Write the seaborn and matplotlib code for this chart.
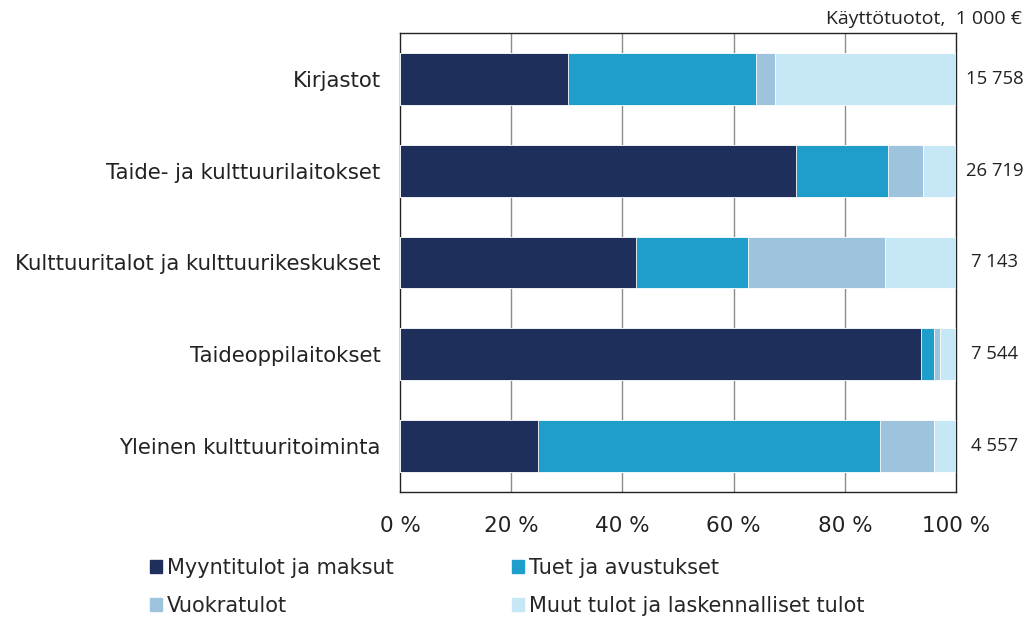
import pandas as pd
import seaborn as sns
import matplotlib.pyplot as plt

categories = ['Kirjastot', 'Taide- ja kulttuurilaitokset', 'Kulttuuritalot ja kulttuurikeskukset',
              'Taideoppilaitokset', 'Yleinen kulttuuritoiminta']
series = ['Myyntitulot ja maksut', 'Tuet ja avustukset', 'Vuokratulot',
          'Muut tulot ja laskennalliset tulot']
myynti = [30.2, 71.2, 42.4, 93.7, 24.8]
tuet = [33.8, 16.6, 20.2, 2.3, 61.5]
vuokra = [3.4, 6.3, 24.6, 1.1, 9.7]
muut = [32.6, 5.9, 12.8, 2.9, 4.0]
totals = ['15 758', '26 719', '7 143', '7 544', '4 557']
colors = ['#1f2f5c', '#1f9dcb', '#9dc4dc', '#c5e7f6']

df = pd.DataFrame({'kategoria': categories, series[0]: myynti, series[1]: tuet,
                   series[2]: vuokra, series[3]: muut})
cum = df[series].cumsum(axis=1)

sns.set_style('white')
plt.rcParams['font.family'] = ['DejaVu Sans']

fig = plt.figure(figsize=(10.32, 6.2), dpi=100)
ax = fig.add_axes([0.3876, 0.2065, 0.5388, 0.7403])

# stacked bars: draw cumulative sums from the largest down
for name, col in reversed(list(zip(series, colors))):
    sns.barplot(x=cum[name], y=df['kategoria'], color=col, orient='h', width=0.565,
                saturation=1, edgecolor='white', linewidth=0.6, ax=ax, zorder=3)

ax.set_xlim(0, 100)
ax.set_ylim(4.5, -0.5)
ax.set_xticks([0, 20, 40, 60, 80, 100])
ax.set_xticklabels(['0 %', '20 %', '40 %', '60 %', '80 %', '100 %'], fontsize=15.5, color='#222222')
ax.tick_params(axis='y', labelsize=15.3, length=0, pad=14, colors='#222222')
ax.tick_params(axis='x', length=0, pad=17)
ax.set_xlabel('')
ax.set_ylabel('')
for x in [20, 40, 60, 80]:
    ax.axvline(x, color='#8c8c8c', linewidth=1, zorder=1)
for s in ax.spines.values():
    s.set_color('#222222')
    s.set_linewidth(1)

for i, t in enumerate(totals):
    ax.text(1.07, i, t, transform=ax.get_yaxis_transform(), ha='center', va='center',
            fontsize=13.3, family='Open Sans', color='#222222')
fig.text(0.99, 0.97, 'Käyttötuotot,  1 000 €', ha='right', va='center', fontsize=14,
         family='Open Sans', color='#222222')

# legend filled row by row like the original
order = [0, 2, 1, 3]
handles = [plt.Rectangle((0, 0), 1, 1, color=colors[k]) for k in order]
labels = [series[k] for k in order]
fig.legend(handles, labels, ncol=2, loc='lower left', bbox_to_anchor=(0.127, -0.023),
           frameon=False, fontsize=15, handlelength=0.58, handleheight=0.58,
           handletextpad=0.25, columnspacing=5.65, labelspacing=0.85)

fig.savefig('out.png', dpi=100)
